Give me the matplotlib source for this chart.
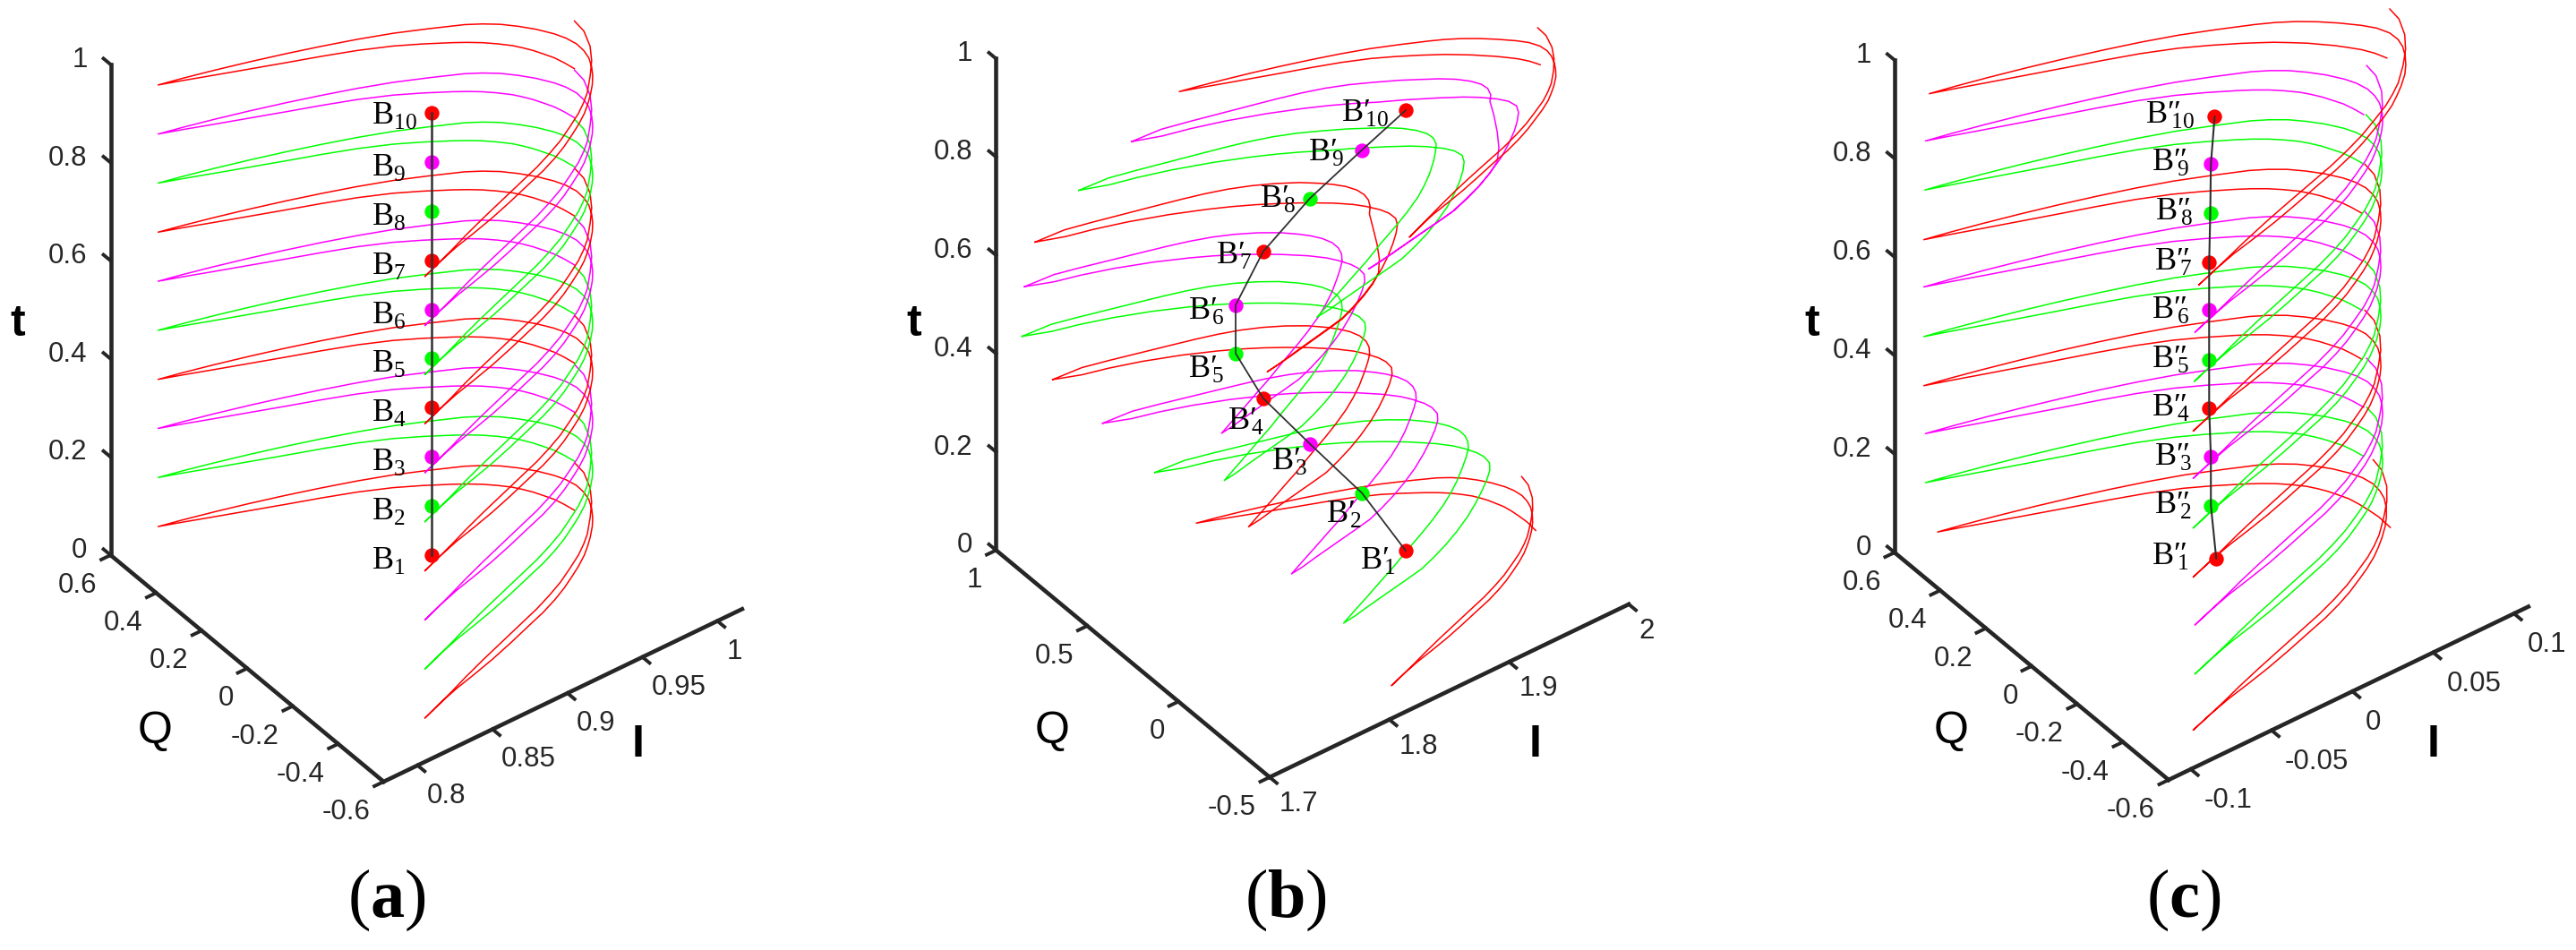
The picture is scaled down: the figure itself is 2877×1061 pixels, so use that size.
import numpy as np
import matplotlib
matplotlib.use('Agg')
import matplotlib.pyplot as plt
from mpl_toolkits.mplot3d import proj3d

plt.rcParams['font.family'] = ['Liberation Sans', 'DejaVu Sans']
plt.rcParams['mathtext.fontset'] = 'custom'
plt.rcParams['mathtext.rm'] = 'Liberation Serif'
plt.rcParams['mathtext.bf'] = 'Liberation Serif:bold'

W, H = 2877, 1061

# open pulse locus in the I/Q plane; its first two points only show on curve 1 of (b), (c)
open_I = [.97206, .97215,
          .97100, .96970, .96806, .96544, .96291, .95986, .95658, .95097, .94547, .93920,
          .93291, .91951, .90598, .88861, .87052, .85215, .83388, .81560, .79966, .78702,
          .80080, .81806, .83752, .85671, .87562, .89426, .91244, .92990, .94707, .95499,
          .96234, .96889, .97493, .98021, .98297, .98454, .98415, .98258, .97923, .97509,
          .97036, .96403, .95835, .95240, .94456, .93691, .92696, .91709, .90582, .89461,
          .87611, .86041, .84536, .83053, .81646, .80213,
          .81480, .82729, .84004, .85655, .86867, .88217, .89369, .90499, .91710, .92872,
          .93942, .94991, .95756, .96428, .97404, .98242, .98906, .99416, .99527]
open_Q = [-.25676, -.20477,
          -.16226, -.12629, -.09377, -.06371, -.03589, -.00988, .01461, .04573, .07254, .09810,
          .12082, .16517, .20580, .24873, .28685, .32316, .36007, .39698, .42965, .45446,
          .43719, .41325, .38417, .35328, .32059, .28609, .24858, .20624, .16210, .13551,
          .10531, .06968, .03074, -.01333, -.04634, -.08332, -.11752, -.14960, -.18436, -.21608,
          -.24549, -.27830, -.30408, -.32884, -.35586, -.37885, -.40725, -.43119, -.45452, -.47338,
          -.50511, -.53003, -.55074, -.56994, -.59205, -.61790,
          -.59517, -.57173, -.54649, -.51614, -.49511, -.47172, -.45180, -.43232, -.40743, -.38066,
          -.35039, -.31927, -.29153, -.26358, -.21202, -.16327, -.11260, -.05124, -.00317]
open_center = (.8879, -.0811)
# how much of the hook bulge each point of the locus takes
open_bulge = [1, 1,
              1, .9, .75, .6, .45, .3, .2, .1, .05, 0,
              0, 0, 0, 0, 0, 0, 0, 0, 0, 0,
              0, 0, 0, 0, 0, 0, 0, 0, 0, .1,
              .2, .35, .5, .7, .85, .95, 1, 1, 1, 1,
              1, .95, .9, .85, .75, .65, .55, .45, .35, .25,
              .15, .1, .05, 0, 0, 0,
              0, 0, .05, .1, .15, .25, .35, .45, .55, .65,
              .75, .85, .9, .95, 1, 1, 1, 1, 1]

loop_I = [1.77078, 1.79384, 1.81256, 1.83405, 1.85555, 1.87086, 1.88588, 1.90031, 1.91387, 1.92656,
          1.93836, 1.94675, 1.95179, 1.95612, 1.95842, 1.95813, 1.95584, 1.95141, 1.94541, 1.93680,
          1.92521, 1.91401, 1.90252, 1.88734, 1.87382, 1.85454, 1.83487, 1.81994, 1.80478, 1.78937, 1.77465,
          1.78557, 1.79789, 1.82126, 1.83585, 1.85064, 1.86433, 1.87879, 1.89250, 1.90736, 1.92082,
          1.93274, 1.94219, 1.94946, 1.95390, 1.95486, 1.95356, 1.94972, 1.94533, 1.93734, 1.92416,
          1.91254, 1.90055, 1.88805, 1.87508, 1.85356, 1.82919, 1.80759, 1.78917, 1.77078]
loop_Q = [.59418, .58526, .56043, .52919, .49795, .47538, .45090, .42265, .38871, .34910,
          .30381, .26077, .23004, .19476, .15760, .12258, .09219, .06101, .03283, -.00344,
          -.04933, -.08773, -.12318, -.16313, -.19563, -.23916, -.28535, -.31726, -.35067, -.38375, -.41582,
          -.40835, -.39532, -.37351, -.36024, -.34585, -.32188, -.29300, -.26123, -.22186, -.18007,
          -.13842, -.10244, -.07004, -.03887, -.00340, .02866, .07050, .10540, .15109, .21186,
          .25829, .30243, .34319, .38090, .43633, .48940, .52827, .55499, .59418]
loop_center = (1.8672, .0914)
loop_bulge = [0, 0, 0, 0, 0, 0, 0, 0, 0, 0,
              .1, .25, .4, .55, .7, .85, .95, 1, 1, 1,
              .95, .9, .85, .75, .65, .5, .4, .3, .2, .1, 0,
              .1, .2, .35, .45, .55, .65, .75, .8, .9, .95,
              1, 1, 1, 1, .95, .85, .7, .55, .35, .15,
              0, 0, 0, 0, 0, 0, 0, 0, 0]

# the same loop where both tail strands run together (curves 7 and 9 of panel b)
thin_tail_I = [1.93624, 1.92503, 1.91427, 1.90329, 1.89191, 1.87821, 1.86375, 1.85017, 1.83539, 1.82079, 1.79742, 1.77465]
thin_tail_Q = [-.03141, -.10890, -.17610, -.23031, -.26501, -.29678, -.32567, -.34887, -.36327, -.37654, -.39834, -.41582]
thin_I = loop_I[:19] + thin_tail_I + loop_I[31:]
thin_Q = loop_Q[:19] + thin_tail_Q + loop_Q[31:]

OPEN = (open_I, open_Q, open_center, open_bulge)
LOOP = (loop_I, loop_Q, loop_center, loop_bulge)
THIN = (thin_I, thin_Q, loop_center, loop_bulge)

t_values = [.1, .2, .3, .4, .5, .6, .7, .8, .9, 1.0]
curve_colors = ['#ff0000', '#00ff00', '#ff00ff', '#ff0000', '#00ff00',
                '#ff00ff', '#ff0000', '#00ff00', '#ff00ff', '#ff0000']

# marker positions of each panel, small turn and hook bulge of each curve, first point used
a_I = [.8879] * 10
a_Q = [-.0811] * 10
a_turn = [0] * 10
a_bulge = [0] * 10
a_start = [2] * 10
b_I = [1.8849, 1.8672, 1.8397, 1.8127, 1.7954, 1.7949, 1.8121, 1.8394, 1.8665, 1.8836]
b_Q = [-.0325, .0914, .1967, .2751, .3124, .3094, .2717, .1948, .0868, -.0408]
b_turn = [-.0145, 0, 0, .0058, .0111, .0068, .0358, .0408, .0398, .0128]
b_bulge = [0, 0, 0, 0, 0, 0, 0, .016, .018, .016]
b_start = [0, 0, 0, 0, 0, 0, 0, 0, 0, 2]
c_I = [-.0138, -.0142, -.0143, -.0156, -.0157, -.0155, -.0164, -.0158, -.0156, -.0151]
c_Q = [-.1016, -.081, -.0816, -.0834, -.084, -.0825, -.0891, -.0895, -.091, -.1038]
c_turn = [-.008, 0, 0, 0, 0, 0, 0, 0, 0, 0]
c_bulge = [0, 0, 0, 0, 0, 0, 0, 0, 0, .012]
c_start = [0, 2, 2, 2, 2, 2, 2, 2, 2, 2]

t_ticks = [0, .2, .4, .6, .8, 1]
t_labels = ['0', '0.2', '0.4', '0.6', '0.8', '1']
a_I_ticks = [.8, .85, .9, .95, 1]
a_I_labels = ['0.8', '0.85', '0.9', '0.95', '1']
a_Q_ticks = [-.6, -.4, -.2, 0, .2, .4, .6]
a_Q_labels = ['-0.6', '-0.4', '-0.2', '0', '0.2', '0.4', '0.6']
b_I_ticks = [1.7, 1.8, 1.9, 2]
b_I_labels = ['1.7', '1.8', '1.9', '2']
b_Q_ticks = [-.5, 0, .5, 1]
b_Q_labels = ['-0.5', '0', '0.5', '1']
c_I_ticks = [-.1, -.05, 0, .05, .1]
c_I_labels = ['-0.1', '-0.05', '0', '0.05', '0.1']
c_Q_ticks = a_Q_ticks
c_Q_labels = a_Q_labels

# label offsets from the markers, pixels
a_lab_dx = [-67] * 10
a_lab_dy = [-15, -15, -15, -15, -15, -15, -15, -15, -15, -12]
b_lab_dx = [-51, -40, -43, -40, -53, -53, -53, -56, -60, -72]
b_lab_dy = [-20, -32, -28, -34, -26, -15, -13, -9, -11, -12]
c_lab_dx = [-72, -63, -63, -64, -64, -64, -61, -62, -66, -77]
c_lab_dy = [-6, -8, -9, -8, -8, -9, -8, -7, -7, -7]


def place(ax, corner, t_len, lims):
    # scale the 3d box so the t axis has t_len pixels, then move it onto the corner
    (i0, i1), (q0, q1) = lims

    def px(i, q, t):
        x, y, _ = proj3d.proj_transform(i, q, t, ax.get_proj())
        return ax.transData.transform((x, y))

    ax.apply_aspect()
    now = abs(px(i0, q1, 1)[1] - px(i0, q1, 0)[1])
    ax.set_box_aspect((1, 1, 1.405), zoom=t_len / now)
    ax.apply_aspect()
    pos = px(i0, q0, 0)
    box = ax.get_position()
    ax.set_position([box.x0 + (corner[0] - pos[0]) / W,
                     box.y0 + (H - corner[1] - pos[1]) / H, box.width, box.height])
    ax.apply_aspect()


def put(ax, i, q, t, s, dx, dy, **kw):
    x, y, _ = proj3d.proj_transform(i, q, t, ax.get_proj())
    ax.annotate(s, (x, y), xytext=(dx, dy), textcoords='offset pixels',
                annotation_clip=False, **kw)


def panel(corner, t_len, lims, I_c, Q_c, turn, bulge, start, loci, I_ticks, I_labels, Q_ticks, Q_labels,
          lab_dx, lab_dy, prime, I_off, line_w):
    (i0, i1), (q0, q1) = lims
    S = 1400
    ax = fig.add_axes([0, 0, S / W, S / H], projection='3d', proj_type='ortho')
    ax.patch.set_visible(False)
    ax.computed_zorder = False
    ax.set_axis_off()
    ax.set_xlim(i0, i1, view_margin=0)
    ax.set_ylim(q0, q1, view_margin=0)
    ax.set_zlim(0, 1, view_margin=0)
    ax.set_box_aspect((1, 1, 1.405))
    ax.view_init(elev=39.2, azim=-127.3)
    place(ax, corner, t_len, lims)

    dk = '#262626'
    for i, q, t in [([i0, i1], [q0, q0], [0, 0]), ([i0, i0], [q0, q1], [0, 0]), ([i0, i0], [q1, q1], [0, 1])]:
        ax.plot(i, q, t, color=dk, lw=3.3, clip_on=False, zorder=1)
    for v in I_ticks:
        ax.plot([v, v], [q0, q0 - .026 * (q1 - q0)], [0, 0], color=dk, lw=2.8, clip_on=False, zorder=1)
    for v in Q_ticks:
        ax.plot([i0, i0 - .026 * (i1 - i0)], [v, v], [0, 0], color=dk, lw=2.8, clip_on=False, zorder=1)
    for v in t_ticks:
        ax.plot([i0, i0], [q1, q1 + .026 * (q1 - q0)], [v, v], color=dk, lw=2.8, clip_on=False, zorder=1)

    for k in range(10):
        loc_I, loc_Q, center, weight = loci[k]
        dI = np.array(loc_I[start[k]:]) - center[0]
        dQ = np.array(loc_Q[start[k]:]) - center[1]
        ax.plot(I_c[k] + dI - turn[k] * dQ + bulge[k] * np.array(weight[start[k]:]), Q_c[k] + dQ + turn[k] * dI,
                np.full(dI.size, t_values[k]), color=curve_colors[k], lw=1.1, clip_on=False, zorder=2)
    for k in range(10):
        ax.plot([I_c[k]], [Q_c[k]], [t_values[k]], 'o', color=curve_colors[k], ms=11.8, mew=0,
                clip_on=False, zorder=3)
    ax.plot(I_c, Q_c, t_values, color='#303030', lw=line_w, clip_on=False, zorder=4)

    lab = dict(color='#262626', fontsize=22.5)
    for v, s in zip(t_ticks, t_labels):
        put(ax, i0, q1, v, s, -26, 5, ha='right', va='center', **lab)
    for v, s in zip(Q_ticks, Q_labels):
        put(ax, i0, v, 0, s, -15, -34, ha='right', va='center', **lab)
    for v, s in zip(I_ticks, I_labels):
        put(ax, v, q0, 0, s, I_off[0], I_off[1], ha='left', va='center', **lab)
    for k in range(10):
        put(ax, I_c[k], Q_c[k], t_values[k], r'$\mathrm{B}%s{}_{%d}$' % (prime, k + 1),
            lab_dx[k], lab_dy[k], ha='left', va='baseline', color='black', fontsize=26)


def fig_text(x, y, s, **kw):
    fig.text(x / W, 1 - y / H, s, ha='center', va='center', **kw)


fig = plt.figure(figsize=(W / 100, H / 100), dpi=100)

panel((428.5, 873), 548, ((.7774, 1.0165), (-.6, .6)), a_I, a_Q, a_turn, a_bulge, a_start, [OPEN] * 10,
      a_I_ticks, a_I_labels, a_Q_ticks, a_Q_labels, a_lab_dx, a_lab_dy, '', (10, -34), 1.8)
panel((1418, 868), 549, ((1.7, 2.0), (-.5, 1.0)), b_I, b_Q, b_turn, b_bulge, b_start,
      [OPEN, LOOP, LOOP, LOOP, LOOP, LOOP, THIN, LOOP, THIN, OPEN],
      b_I_ticks, b_I_labels, b_Q_ticks, b_Q_labels, b_lab_dx, b_lab_dy, r'\prime\!', (11, -30), 1.3)
panel((2422, 871), 550, ((-.1137, .1089), (-.6, .6)), c_I, c_Q, c_turn, c_bulge, c_start, [OPEN] * 10,
      c_I_ticks, c_I_labels, c_Q_ticks, c_Q_labels, c_lab_dx, c_lab_dy, r'\prime\prime\!\!', (15, -35), 1.5)

for tx, qx, ix, letter, mid in [(20, 173, 713, 'a', 432), (1021, 1175, 1715, 'b', 1436), (2024, 2179, 2718, 'c', 2439)]:
    fig_text(tx, 362, 't', fontsize=36, color='black', fontweight='bold')
    fig_text(qx, 817, 'Q', fontsize=36, color='black')
    fig_text(ix, 832, 'I', fontsize=36, color='black', fontweight='bold')
    fig_text(mid, 1005, r'$\mathrm{(}\mathbf{%s}\mathrm{)}$' % letter, fontsize=55, color='black')

fig.savefig('out.png', dpi=100)
